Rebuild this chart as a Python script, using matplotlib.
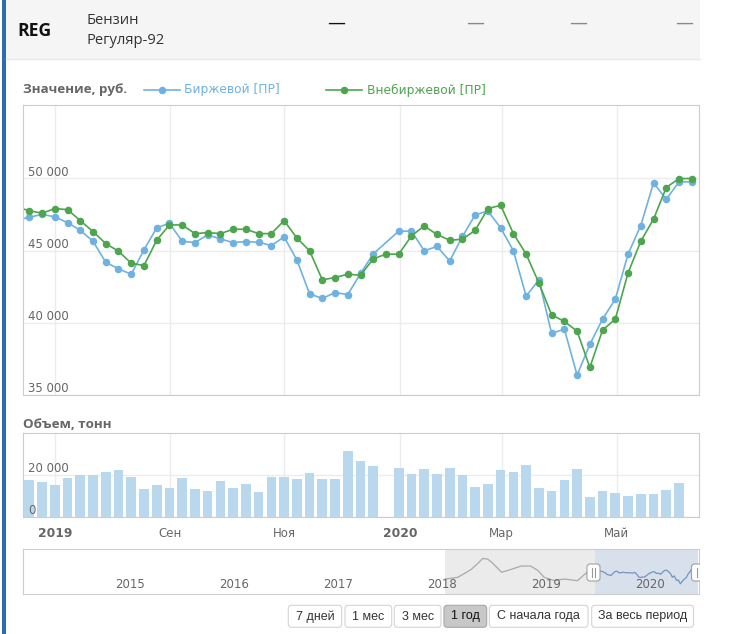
import numpy as np
import matplotlib
matplotlib.use("Agg")
import matplotlib.pyplot as plt
from matplotlib.patches import Rectangle, FancyBboxPatch

plt.rcParams['font.family'] = ['DejaVu Sans']

W, H = 731, 634

# weekly prices, first value sits just left of the visible range
blue_vals = [47100,
             47300, 47500, 47330, 46930, 46400, 45640, 44190, 43730, 43360, 45040,
             46570, 46890, 45640, 45550, 46080, 45800, 45550, 45620, 45570, 45340,
             45940, 44350, 42000, 41680, 42090, 41950, 43410, 44770, np.nan, 46340,
             46340, 44980, 45280, 44280, 45970, 47460, 47740, 46570, 44980, 41840,
             42970, 39260, 39560, 36380, 38500, 40250, 41630, 44750, 46730, 49680,
             48550, 49750, 49750]
green_vals = [48000,
              47760, 47580, 47900, 47830, 47070, 46310, 45480, 44950, 44120, 43960,
              45710, 46770, 46770, 46170, 46240, 46170, 46470, 46470, 46170, 46170,
              47070, 45870, 44980, 42970, 43130, 43360, 43290, 44420, 44750, 44750,
              46010, 46700, 46110, 45710, 45780, 46400, 47900, 48130, 46170, 44750,
              42760, 40550, 40090, 39420, 36910, 39490, 40250, 43450, 45640, 47170,
              49360, 49980, 49980]
volume = [17800, 16700, 15100, 18700, 19800, 19800, 21400, 22400, 19200, 13500,
          15100, 14000, 18700, 13500, 12500, 17300, 14000, 15600, 12100, 19200,
          19200, 18300, 20900, 18300, 18300, 31400, 26700, 24400, np.nan, 23300,
          20300, 22900, 20300, 23300, 19800, 14400, 15600, 22400, 21400, 24900,
          14000, 12500, 17800, 22900, 9400, 12500, 11400, 9800, 11000, 11000,
          13000, 16200, np.nan]
month_ticks = [2.02, 11.05, 20.02, 29.10, 37.09, 46.11]
month_labels = ['2019', 'Сен', 'Ноя', '2020', 'Мар', 'Май']
month_bold = [True, False, False, True, False, False]

# navigator history (before the selected year)
nav_years = [2018.03, 2018.15, 2018.28, 2018.34, 2018.39, 2018.44, 2018.49, 2018.57,
             2018.63, 2018.76, 2018.85, 2018.92, 2018.98, 2019.08, 2019.17, 2019.30,
             2019.40, 2019.46]
nav_vals = [40400, 41800, 48400, 53200, 57500, 56900, 53200, 46050, 47500, 51200,
            51200, 47500, 41800, 39000, 40400, 39000, 46600, 48400]
nav_year_ticks = [2015, 2016, 2017, 2018, 2019, 2020]
sel_start, sel_end = 2019.47, 2020.46

buttons = ['7 дней', '1 мес', '3 мес', '1 год', 'С начала года', 'За весь период']
btn_selected = '1 год'
btn_x = [(288.3, 341.7), (345, 391.7), (394.3, 441), (444, 486.7), (489.3, 588), (591.7, 693.5)]

BLUE = '#6fb2e1'
GREEN = '#4da54e'
BAR = '#b9d8ee'
GRID = '#ececec'
BORDER = '#cccccc'
LABEL = '#666666'


def rect(l, t, r, b):
    return [l / W, 1 - b / H, (r - l) / W, (b - t) / H]


def style(ax):
    for s in ax.spines.values():
        s.set_color(BORDER)
    ax.tick_params(length=0, labelbottom=False, labelleft=False)
    ax.set_facecolor('white')


fig = plt.figure(figsize=(W / 100, H / 100), dpi=100)

# background / header
bg = fig.add_axes([0, 0, 1, 1])
bg.set_xlim(0, W)
bg.set_ylim(H, 0)
bg.axis('off')
bg.add_patch(Rectangle((6, 0), 694, 59, color='#f5f5f5', lw=0))
bg.plot([6, 700], [59, 59], color='#eaeaea', lw=1)
bg.add_patch(Rectangle((1.5, 0), 4.5, H, color='#2c6db0', lw=0))
bg.text(17, 31, 'REG', family='Open Sans', weight='bold', fontsize=12.6, va='center', color='#111111')
bg.text(87, 21, 'Бензин', family='Open Sans', fontsize=10.6, va='center', color='#333333')
bg.text(87, 40, 'Регуляр-92', family='Open Sans', fontsize=10.6, va='center', color='#333333')
for xc, col in zip([336, 475, 578, 684], ['#111111', '#888888', '#888888', '#888888']):
    bg.text(xc, 23, '—', ha='center', va='center', fontsize=13, color=col)

bg.text(23, 90, 'Значение, руб.', family='Open Sans', weight='bold', fontsize=9.6, va='center', color=LABEL)
bg.plot([144, 180], [90, 90], color=BLUE, lw=1.2)
bg.plot([162], [90], 'o', color=BLUE, ms=4.4)
bg.text(184, 90, 'Биржевой [ПР]', fontsize=8.8, va='center', color=BLUE)
bg.plot([326, 362], [90, 90], color=GREEN, lw=1.2)
bg.plot([344], [90], 'o', color=GREEN, ms=4.4)
bg.text(367, 90, 'Внебиржевой [ПР]', fontsize=8.8, va='center', color=GREEN)
bg.text(23, 424, 'Объем, тонн', family='Open Sans', weight='bold', fontsize=9.6, va='center', color=LABEL)

# price chart
x = np.arange(-1, len(blue_vals) - 1)
blue = np.array(blue_vals, dtype=float)
green = np.array(green_vals, dtype=float)
ax = fig.add_axes(rect(23, 105, 699, 395))
style(ax)
ax.set_xlim(-0.495, 52.57)
ax.set_ylim(35000, 55070)
ax.set_xticks(month_ticks)
ax.set_yticks([35000, 40000, 45000, 50000])
ax.grid(color=GRID, lw=1)
ax.set_axisbelow(True)
m = ~np.isnan(blue)
ax.plot(x[m], blue[m], color=BLUE, lw=1.2, marker='o', ms=4.4)
ax.plot(x, green, color=GREEN, lw=1.2, marker='o', ms=4.4)
for v in [35000, 40000, 45000, 50000]:
    ax.annotate(f'{v:,}'.replace(',', ' '), xy=(0, v), xycoords=('axes fraction', 'data'),
                xytext=(5, 2.5), textcoords='offset pixels', va='baseline', ha='left',
                color=LABEL, fontsize=8.5)

# volume chart
xv = np.arange(len(volume))
ax2 = fig.add_axes(rect(23, 433, 699, 517))
style(ax2)
ax2.set_xlim(-0.495, 52.57)
ax2.set_ylim(0, 40000)
ax2.set_xticks(month_ticks)
ax2.set_yticks([0, 20000])
ax2.grid(color=GRID, lw=1)
ax2.set_axisbelow(True)
ax2.bar(xv, np.nan_to_num(volume), width=0.76, color=BAR, lw=0)
for v, lab in [(0, '0'), (20000, '20 000')]:
    ax2.annotate(lab, xy=(0, v), xycoords=('axes fraction', 'data'),
                 xytext=(5, 2.7), textcoords='offset pixels', va='baseline', ha='left',
                 color=LABEL, fontsize=8.5)
for pos, lab, b in zip(month_ticks, month_labels, month_bold):
    ax2.annotate(lab, xy=(pos, 0), xycoords=('data', 'axes fraction'),
                 xytext=(0, -19.7), textcoords='offset pixels', va='baseline', ha='center',
                 color=LABEL, fontsize=8.8 if b else 8.5, weight='bold' if b else 'normal')

# navigator
nav = fig.add_axes(rect(23, 549, 699, 594))
style(nav)
nav.set_xlim(2013.972, 2020.468)
nav.set_ylim(27900, 65400)
nav.axvspan(nav_years[0], sel_start, color='#ebebeb', lw=0)
nav.axvspan(sel_start, sel_end, color='#d8e0eb', lw=0)
nav.plot(nav_years, nav_vals, color='#a9a9a9', lw=0.9)
sel_x = sel_start + (sel_end - sel_start) * np.arange(len(blue) - 1) / (len(blue) - 2)
sb = blue[1:]
mb = ~np.isnan(sb)
nav.plot(np.r_[nav_years[-1], sel_x[mb]], np.r_[nav_vals[-1], sb[mb]], color='#7494c4', lw=0.9)
for yr in nav_year_ticks:
    nav.annotate(str(yr), xy=(yr, 0), xycoords=('data', 'axes fraction'),
                 xytext=(0, 6), textcoords='offset pixels', va='baseline', ha='center',
                 color=LABEL, fontsize=8.5)

# overlay: navigator handles and range buttons
fg = fig.add_axes([0, 0, 1, 1])
fg.set_xlim(0, W)
fg.set_ylim(H, 0)
fg.axis('off')
fg.patch.set_alpha(0)
clip = Rectangle((0, 0), 699.5, H, transform=fg.transData)
for hx in [593.5, 698]:
    hp = FancyBboxPatch((hx - 6.5, 564), 13, 17, boxstyle='round,pad=0,rounding_size=3',
                        fc='white', ec='#a0a0a0', lw=0.8)
    fg.add_patch(hp)
    hp.set_clip_path(clip)
    for dx in [-1.5, 1.5]:
        ln, = fg.plot([hx + dx, hx + dx], [568, 577], color='#999999', lw=0.8)
        ln.set_clip_path(clip)

for lab, (l, r) in zip(buttons, btn_x):
    sel = lab == btn_selected
    fg.add_patch(FancyBboxPatch((l, 605.3), r - l, 22, boxstyle='round,pad=0,rounding_size=3',
                                fc='#c8c8c8' if sel else 'white',
                                ec='#a8a8a8' if sel else '#d4d4d4', lw=0.8))
    fg.text((l + r) / 2, 616.5, lab, ha='center', va='center', family='Liberation Sans',
            fontsize=9, color='#111111' if sel else '#333333')

fig.savefig('out.png', dpi=100)
